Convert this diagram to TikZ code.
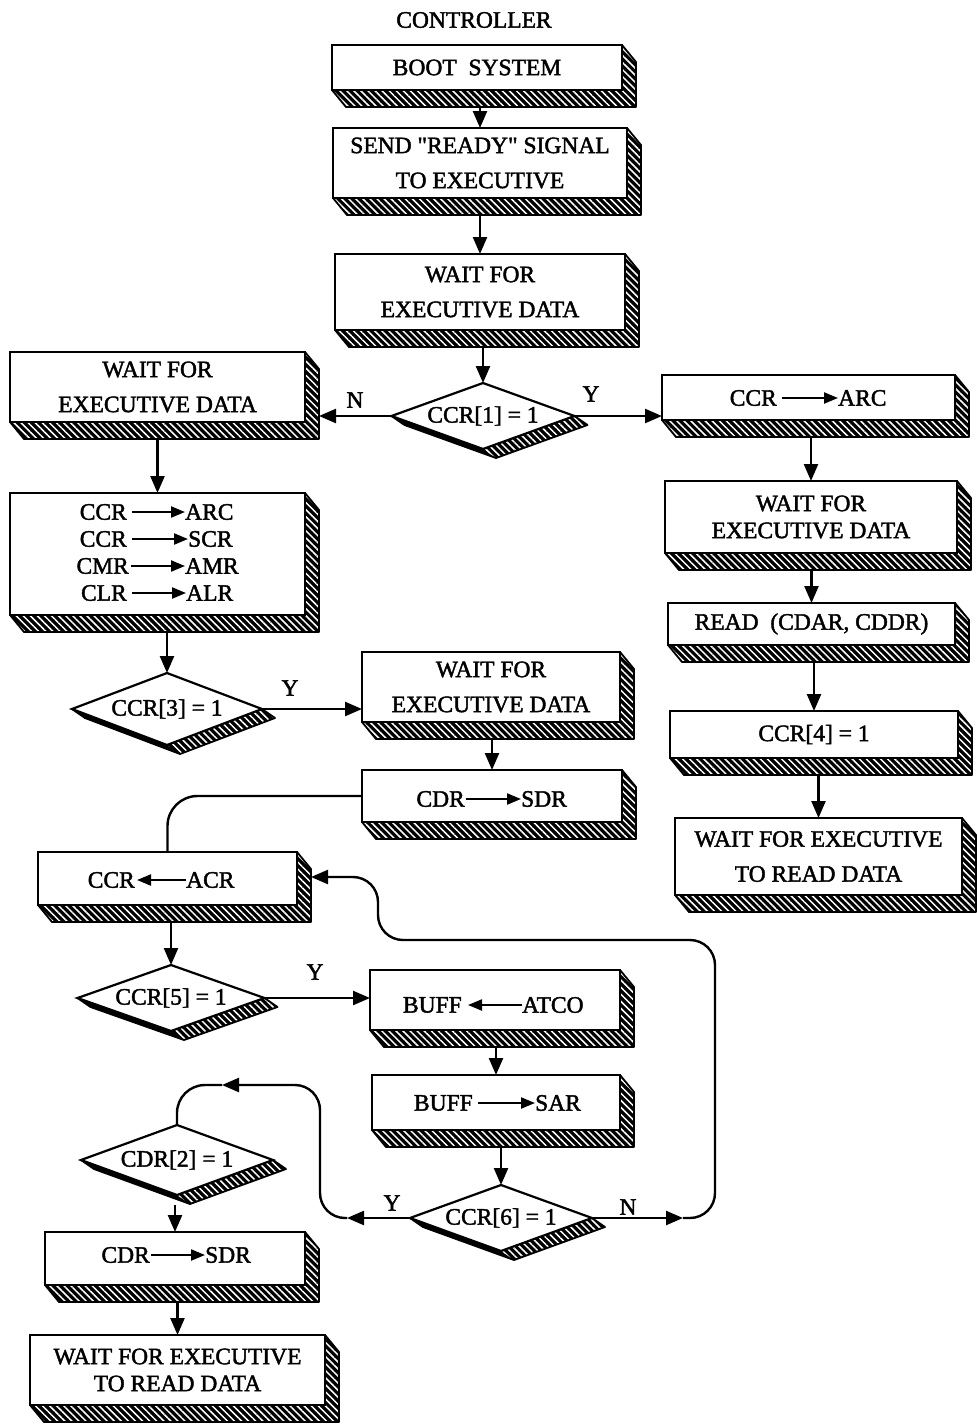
\documentclass[tikz,border=0pt]{standalone}
\usepackage{fontspec}
\setmainfont{Liberation Serif}[Ligatures=TeXOff,FakeBold=1.8]
\usetikzlibrary{shapes.geometric,arrows.meta,calc,patterns.meta}
\pgfdeclarelayer{paper}
\pgfdeclarelayer{bg}
\pgfsetlayers{paper,bg,main}
\newcommand\fsA{\fontsize{23.5}{35}\selectfont}
\newcommand\fsB{\fontsize{23.5}{27}\selectfont}
\newcommand\boxdepth[1]{%
  \begin{pgfonlayer}{bg}
  \fill[black] (#1.north east) -- ($(#1.north east)+(14,17)$) -- ($(#1.south east)+(14,17)$) -- ($(#1.south west)+(14,17)$) -- (#1.south west) -- cycle;
  \fill[hatch] (#1.north east) -- ($(#1.north east)+(14,17)$) -- ($(#1.south east)+(14,17)$) -- (#1.south east) -- cycle;
  \fill[hatch] (#1.south west) -- (#1.south east) -- ($(#1.south east)+(14,17)$) -- ($(#1.south west)+(14,17)$) -- cycle;
  \draw[line width=1.8pt, line join=round] (#1.north east) -- ($(#1.north east)+(14,17)$) -- ($(#1.south east)+(14,17)$) -- ($(#1.south west)+(14,17)$) -- (#1.south west);
  \end{pgfonlayer}
  \coordinate (#1-b) at ($(#1.south)+(0,17)$);
  \coordinate (#1-r) at ($(#1.east)+(14,0)$);
}
\newcommand\diadepth[1]{%
  \begin{pgfonlayer}{bg}
  \fill[black, line join=round] (#1.west) -- (#1.south) -- (#1.east) -- ($(#1.east)+(13,9)$) -- ($(#1.south)+(13,9)$) -- ($(#1.west)+(13,9)$) -- cycle;
  \fill[hatch] (#1.south) -- (#1.east) -- ($(#1.east)+(13,9)$) -- ($(#1.south)+(13,9)$) -- cycle;
  \draw[line width=1.8pt, line join=round] (#1.east) -- ($(#1.east)+(13,9)$) -- ($(#1.south)+(13,9)$) -- ($(#1.west)+(13,9)$) -- (#1.west);
  \end{pgfonlayer}
  \coordinate (#1-b) at ($(#1.south)+(0,10)$);
}
\begin{document}
\begin{tikzpicture}[x=1pt,y=-1pt,
  box/.style={draw, line width=2.2pt, fill=white, inner sep=0pt, outer sep=0pt, align=center, font=\fsA},
  dia/.style={shape=diamond, aspect=3, draw, line width=2.2pt, fill=white, inner sep=0pt, outer sep=0pt, font=\fsA},
  conn/.style={line width=2.4pt},
  arr/.style={conn, -{Triangle[length=17pt,width=14pt]}},
  iarr/.style={line width=2.2pt, -{Triangle[length=14pt,width=11pt]}},
  lbl/.style={font=\fsA, inner sep=0pt},
  word/.style={font=\fsA, inner sep=0pt},
  hatch/.style={pattern={Lines[angle=-45,distance=5pt,line width=1.5pt]}, pattern color=white}]
\useasboundingbox (0,0) rectangle (977,1427);
\begin{pgfonlayer}{paper}
\fill[white] (0,0) rectangle (977,1427);
\end{pgfonlayer}

% ---------- top column ----------
\node[lbl] (ctl) at (474,20) {CONTROLLER};
\node[box, minimum width=290pt, minimum height=45pt] (boot) at (477,67.5) {BOOT\enspace SYSTEM};
\boxdepth{boot}
\node[box, minimum width=294pt, minimum height=70pt] (ready) at (480,163) {SEND "READY" SIGNAL\\TO EXECUTIVE};
\boxdepth{ready}
\node[box, minimum width=290pt, minimum height=76pt] (waitA) at (480,292) {WAIT FOR\\EXECUTIVE DATA};
\boxdepth{waitA}
\node[dia, minimum width=183pt, minimum height=66pt] (dA) at (483,416) {CCR[1] = 1};
\diadepth{dA}

% ---------- left column ----------
\node[box, minimum width=295pt, minimum height=70pt] (waitL) at (157.5,387) {WAIT FOR\\EXECUTIVE DATA};
\boxdepth{waitL}
\node[box, minimum width=295pt, minimum height=122pt] (regs) at (157.5,554) {};
\boxdepth{regs}
\node[word, anchor=east] (rA1) at (127,512) {CCR};
\node[word, anchor=west] (rA2) at (185,512) {ARC};
\node[word, anchor=east] (rB1) at (127,539) {CCR};
\node[word, anchor=west] (rB2) at (188,539) {SCR};
\node[word, anchor=east] (rC1) at (129,566) {CMR};
\node[word, anchor=west] (rC2) at (185,566) {AMR};
\node[word, anchor=east] (rD1) at (127,593) {CLR};
\node[word, anchor=west] (rD2) at (186,593) {ALR};
\draw[iarr, shorten <=5pt] (rA1.east) -- (rA2.west);
\draw[iarr, shorten <=5pt] (rB1.east) -- (rB2.west);
\draw[iarr, shorten <=2pt] (rC1.east) -- (rC2.west);
\draw[iarr, shorten <=5pt] (rD1.east) -- (rD2.west);

\node[dia, minimum width=190pt, minimum height=72pt] (dB) at (167,709) {CCR[3] = 1};
\diadepth{dB}

% ---------- middle ----------
\node[box, minimum width=258pt, minimum height=70pt] (waitM) at (491,687) {WAIT FOR\\EXECUTIVE DATA};
\boxdepth{waitM}
\node[box, minimum width=260pt, minimum height=52pt] (cdrM) at (492,796) {};
\boxdepth{cdrM}
\node[word, anchor=east] (cm1) at (465,799) {CDR};
\node[word, anchor=west] (cm2) at (521,799) {SDR};
\draw[iarr, shorten <=1pt] (cm1.east) -- (cm2.west);

\node[box, minimum width=259pt, minimum height=53pt] (acr) at (167.5,878.5) {};
\boxdepth{acr}
\node[word, anchor=east] (ac1) at (135,880) {CCR};
\node[word, anchor=west] (ac2) at (186,880) {ACR};
\draw[iarr, shorten >=2pt] (ac2.west) -- (ac1.east);

\node[dia, minimum width=187pt, minimum height=66pt] (dC) at (171,998) {CCR[5] = 1};
\diadepth{dC}

\node[box, minimum width=250pt, minimum height=60pt] (atco) at (495,1000) {};
\boxdepth{atco}
\node[word, anchor=east] (at1) at (462,1005) {BUFF};
\node[word, anchor=west] (at2) at (522,1005) {ATCO};
\draw[iarr, shorten >=6pt] (at2.west) -- (at1.east);

\node[box, minimum width=248pt, minimum height=55pt] (sar) at (496,1102.5) {};
\boxdepth{sar}
\node[word, anchor=east] (sa1) at (473,1103) {BUFF};
\node[word, anchor=west] (sa2) at (535,1103) {SAR};
\draw[iarr, shorten <=5pt] (sa1.east) -- (sa2.west);

\node[dia, minimum width=182pt, minimum height=66pt] (dD) at (501,1218) {CCR[6] = 1};
\diadepth{dD}

\node[dia, minimum width=192pt, minimum height=70pt] (dE) at (177,1160) {CDR[2] = 1};
\diadepth{dE}

\node[box, minimum width=260pt, minimum height=53pt] (cdrL) at (175,1258.5) {};
\boxdepth{cdrL}
\node[word, anchor=east] (cl1) at (150,1255) {CDR};
\node[word, anchor=west] (cl2) at (205,1255) {SDR};
\draw[iarr, shorten <=1pt] (cl1.east) -- (cl2.west);

\node[box, font=\fsB, minimum width=295pt, minimum height=70pt] (waitLL) at (177.5,1370) {WAIT FOR EXECUTIVE\\TO READ DATA};
\boxdepth{waitLL}

% ---------- right column ----------
\node[box, minimum width=293pt, minimum height=45pt] (arc) at (808.5,397.5) {};
\boxdepth{arc}
\node[word, anchor=east] (ar1) at (777,398) {CCR};
\node[word, anchor=west] (ar2) at (838,398) {ARC};
\draw[iarr, shorten <=5pt] (ar1.east) -- (ar2.west);

\node[box, font=\fsB, minimum width=292pt, minimum height=72pt] (waitR) at (811,517) {WAIT FOR\\EXECUTIVE DATA};
\boxdepth{waitR}
\node[box, minimum width=287pt, minimum height=42pt] (read) at (811.5,624) {READ\enspace (CDAR, CDDR)};
\boxdepth{read}
\node[box, minimum width=288pt, minimum height=47pt] (ccrf) at (814,734.5) {CCR[4] = 1};
\boxdepth{ccrf}
\node[box, minimum width=287pt, minimum height=77pt] (waitRR) at (818.5,856.5) {WAIT FOR EXECUTIVE\\TO READ DATA};
\boxdepth{waitRR}

% ---------- connectors ----------
\draw[arr] (ready.north |- boot-b) -- (ready.north);
\draw[arr] (waitA.north |- ready-b) -- (waitA.north);
\draw[arr] (dA.north |- waitA-b) -- (dA.north);
\draw[arr] (dA.west) -- (dA.west -| waitL-r);
\draw[arr] (dA.east) -- (dA.east -| arc.west);
\draw[arr] (regs.north |- waitL-b) -- (regs.north);
\draw[arr] (dB.north |- regs-b) -- (dB.north);
\draw[arr] (dB.east) -- (dB.east -| waitM.west);
\draw[arr] (cdrM.north |- waitM-b) -- (cdrM.north);
\draw[conn, rounded corners=30pt] (cdrM.west) -| (acr.north);
\draw[arr] (dC.north |- acr-b) -- (dC.north);
\draw[arr] (dC.east) -- (dC.east -| atco.west);
\draw[arr] (sar.north |- atco-b) -- (sar.north);
\draw[arr] (dD.north |- sar-b) -- (dD.north);

\coordinate (yA) at (347,1218);
\coordinate (yB) at (320,1085);
\coordinate (yC) at (222,1085);
\draw[arr] (dD.west) -- (yA);
\draw[arr, rounded corners=25pt] (yA) -| (yB) -- (yC);
\draw[conn, rounded corners=28pt] (yC) -| (dE.north);

\coordinate (nA) at (683,1218);
\coordinate (nB) at (715,940);
\coordinate (nC) at (378,877);
\draw[arr] (dD.east) -- (nA);
\draw[arr, rounded corners=25pt] (nA) -| (nB) -| (nC) -- (nC -| acr-r);

\draw[arr] (cdrL.north |- dE-b) -- (cdrL.north);
\draw[arr] (waitLL.north |- cdrL-b) -- (waitLL.north);

\draw[arr] (waitR.north |- arc-b) -- (waitR.north);
\draw[arr] (read.north |- waitR-b) -- (read.north);
\draw[arr] (ccrf.north |- read-b) -- (ccrf.north);
\draw[arr] (waitRR.north |- ccrf-b) -- (waitRR.north);

% ---------- branch labels ----------
\node[lbl] (lN1) at (355,400) {N};
\node[lbl] (lY1) at (591,394) {Y};
\node[lbl] (lY3) at (290,688) {Y};
\node[lbl] (lY5) at (315,972) {Y};
\node[lbl] (lY6) at (392,1203) {Y};
\node[lbl] (lN6) at (628,1207) {N};
\end{tikzpicture}
\end{document}
